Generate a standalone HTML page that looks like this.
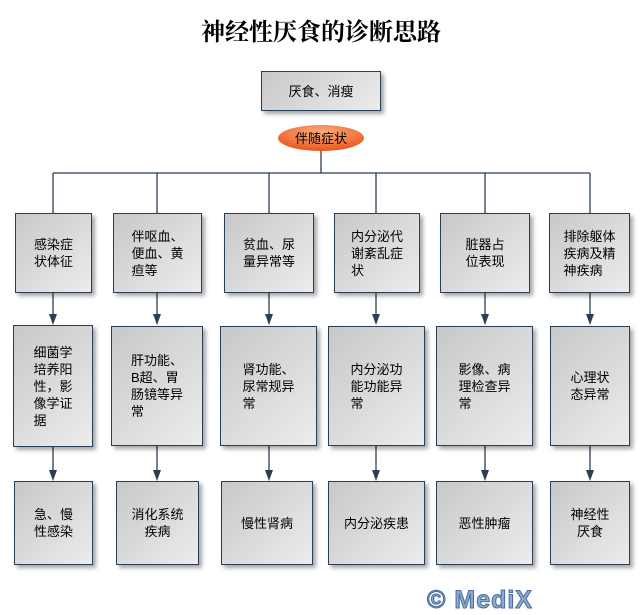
<!DOCTYPE html>
<html><head><meta charset="utf-8"><style>
body{margin:0;width:642px;height:611px;background:#fff;position:relative;overflow:hidden;font-family:"Liberation Sans","Noto Sans CJK SC",sans-serif;}
.b{position:absolute;box-sizing:border-box;border:1.5px solid #2c3e55;background:linear-gradient(135deg,#c8c8c8,#ececec);box-shadow:3px 3px 4px rgba(0,0,0,0.35);display:flex;align-items:center;justify-content:center;font-size:13px;line-height:17px;color:#000;}
.b div{text-align:left}
.c div{text-align:center}
svg{position:absolute;left:0;top:0}
</style></head><body>
<div style="position:absolute;left:0;width:642px;top:12px;text-align:center;font-size:24px;font-weight:bold;font-family:'Liberation Serif','Noto Serif CJK SC',serif;">神经性厌食的诊断思路</div>
<svg width="642" height="611">
<g stroke="#2c3e55" stroke-width="1.3" fill="none">
<line x1="321" y1="151" x2="321" y2="173"/>
<line x1="53" y1="173" x2="590" y2="173"/>
<line x1="53" y1="173" x2="53" y2="213"/><line x1="157" y1="173" x2="157" y2="213"/><line x1="269" y1="173" x2="269" y2="213"/>
<line x1="376" y1="173" x2="376" y2="213"/><line x1="485" y1="173" x2="485" y2="213"/><line x1="590" y1="173" x2="590" y2="213"/>
<line x1="53" y1="293" x2="53" y2="316"/><line x1="157" y1="293" x2="157" y2="316"/><line x1="269" y1="293" x2="269" y2="316"/>
<line x1="376" y1="293" x2="376" y2="316"/><line x1="485" y1="293" x2="485" y2="316"/><line x1="590" y1="293" x2="590" y2="316"/>
<line x1="53" y1="446" x2="53" y2="472"/><line x1="157" y1="446" x2="157" y2="472"/><line x1="269" y1="446" x2="269" y2="472"/>
<line x1="376" y1="446" x2="376" y2="472"/><line x1="485" y1="446" x2="485" y2="472"/><line x1="590" y1="446" x2="590" y2="472"/>
</g>
<g fill="#2c3e55">
<path d="M49 314h8l-4 11z"/><path d="M153 314h8l-4 11z"/><path d="M265 314h8l-4 11z"/><path d="M372 314h8l-4 11z"/><path d="M481 314h8l-4 11z"/><path d="M586 314h8l-4 11z"/>
<path d="M49 470h8l-4 11z"/><path d="M153 470h8l-4 11z"/><path d="M265 470h8l-4 11z"/><path d="M372 470h8l-4 11z"/><path d="M481 470h8l-4 11z"/><path d="M586 470h8l-4 11z"/>
</g>
<defs><radialGradient id="o" cx="0.5" cy="0.3" r="0.7"><stop offset="0" stop-color="#ffb080"/><stop offset="1" stop-color="#e8541a"/></radialGradient></defs>
<ellipse cx="321" cy="138" rx="43" ry="13" fill="url(#o)"/>
<text x="321" y="143" text-anchor="middle" font-size="13" font-family="Liberation Sans,Noto Sans CJK SC,sans-serif">伴随症状</text>
</svg>
<div class="b c" style="left:261px;top:71px;width:120px;height:40px;"><div>厌食、消瘦</div></div>

<div class="b c" style="left:15px;top:213px;width:77px;height:80px;"><div>感染症<br>状体征</div></div>
<div class="b" style="left:113px;top:213px;width:89px;height:80px;"><div>伴呕血、<br>便血、黄<br>疸等</div></div>
<div class="b c" style="left:224px;top:213px;width:90px;height:80px;"><div>贫血、尿<br>量异常等</div></div>
<div class="b" style="left:334px;top:213px;width:86px;height:80px;"><div>内分泌代<br>谢紊乱症<br>状</div></div>
<div class="b c" style="left:440px;top:213px;width:90px;height:80px;"><div>脏器占<br>位表现</div></div>
<div class="b" style="left:549px;top:213px;width:81px;height:80px;"><div>排除躯体<br>疾病及精<br>神疾病</div></div>

<div class="b" style="left:13px;top:325px;width:80px;height:122px;"><div>细菌学<br>培养阳<br>性，影<br>像学证<br>据</div></div>
<div class="b" style="left:111px;top:326px;width:92px;height:120px;"><div>肝功能、<br>B超、胃<br>肠镜等异<br>常</div></div>
<div class="b" style="left:220px;top:326px;width:97px;height:120px;"><div>肾功能、<br>尿常规异<br>常</div></div>
<div class="b" style="left:328px;top:326px;width:97px;height:120px;"><div>内分泌功<br>能功能异<br>常</div></div>
<div class="b" style="left:436px;top:326px;width:97px;height:120px;"><div>影像、病<br>理检查异<br>常</div></div>
<div class="b c" style="left:550px;top:326px;width:80px;height:120px;"><div>心理状<br>态异常</div></div>

<div class="b c" style="left:14px;top:481px;width:79px;height:84px;"><div>急、慢<br>性感染</div></div>
<div class="b c" style="left:116px;top:481px;width:83px;height:84px;"><div>消化系统<br>疾病</div></div>
<div class="b c" style="left:221px;top:481px;width:92px;height:84px;"><div>慢性肾病</div></div>
<div class="b c" style="left:328px;top:481px;width:97px;height:84px;"><div>内分泌疾患</div></div>
<div class="b c" style="left:436px;top:481px;width:97px;height:84px;"><div>恶性肿瘤</div></div>
<div class="b c" style="left:550px;top:481px;width:80px;height:84px;"><div>神经性<br>厌食</div></div>

<div style="position:absolute;left:427px;top:586px;font-size:25px;font-weight:bold;color:#8aaad0;-webkit-text-stroke:1px #4a6d9c;letter-spacing:1px;">© MediX</div>
</body></html>
